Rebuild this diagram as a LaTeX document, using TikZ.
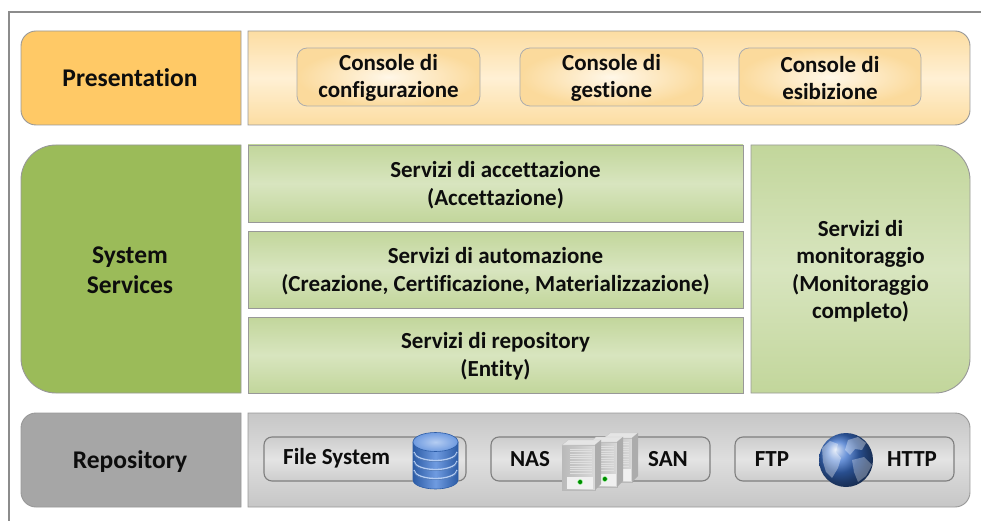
\documentclass[tikz,border=0pt]{standalone}
\usepackage{fontspec}
\setmainfont{Carlito}[Ligatures=NoCommon]
\definecolor{framec}{HTML}{8C8C8C}
\definecolor{bordc}{HTML}{989898}
\definecolor{presL}{HTML}{FFC966}
\definecolor{presE}{HTML}{FCDDA2}
\definecolor{presM}{HTML}{FFF0D4}
\definecolor{consE}{HTML}{FBDA9C}
\definecolor{consM}{HTML}{FFF7E8}
\definecolor{sysL}{HTML}{9BBB59}
\definecolor{grnE}{HTML}{C2D69B}
\definecolor{grnM}{HTML}{D8E5BF}
\definecolor{repL}{HTML}{A6A6A6}
\definecolor{repE}{HTML}{C6C6C6}
\definecolor{repM}{HTML}{DEDEDE}
\definecolor{inE}{HTML}{CDCDCD}
\definecolor{inM}{HTML}{E4E4E4}
\definecolor{inB}{HTML}{7F7F7F}
\definecolor{dbdark}{HTML}{2C5CA6}
\definecolor{dbmid}{HTML}{6F9BE0}
\definecolor{dblight}{HTML}{B5CDF2}
\definecolor{globeb}{HTML}{3A70CC}
\definecolor{txtc}{HTML}{0D0D0D}
\newcommand\mkLbox[6]{\path[#1] (#4,#3) -- ({#2+#6},#3) arc[start angle=270,end angle=180,radius=#6] -- (#2,{#5-#6}) arc[start angle=180,end angle=90,radius=#6] -- (#4,#5) -- cycle;}
\newcommand\mkRbox[6]{\path[#1] (#2,#3) -- ({#4-#6},#3) arc[start angle=270,end angle=360,radius=#6] -- (#4,{#5-#6}) arc[start angle=0,end angle=90,radius=#6] -- (#2,#5) -- cycle;}
\newcommand\mkServer[5]{% name x y w h
  \path[draw=gray!55, line width=0.4pt, left color=gray!55, right color=gray!30] (#2,#3) -- ({#2+#4},#3) -- ({#2+#4},{#3+#5}) -- (#2,{#3+#5}) -- cycle;
  \path[fill=gray!20, draw=gray!45, line width=0.4pt] (#2,#3) -- ({#2+6},{#3-5}) -- ({#2+#4+6},{#3-5}) -- ({#2+#4},#3) -- cycle;
  \path[fill=gray!65] ({#2+#4},#3) -- ({#2+#4+6},{#3-5}) -- ({#2+#4+6},{#3+#5-6}) -- ({#2+#4},{#3+#5}) -- cycle;
  \foreach \k in {0,...,10} {\draw[gray!25, line width=0.6pt] ({#2+#4*0.25},{#3+4+\k*2.4}) -- ({#2+#4*0.9},{#3+4+\k*2.4});}
  \path[fill=gray!12] ({#2+#4*0.15},{#3+#5-13}) rectangle ({#2+#4*0.95},{#3+#5-1});
  \node[circle, inner sep=0pt, minimum size=5pt, fill=green!55!black, draw=green!35] (#1) at ({#2+#4*0.55},{#3+#5-8}) {};
}
\begin{document}
\begin{tikzpicture}[x=1pt,y=-1pt,
  txt/.style={font=\fontsize{23}{27.5}\selectfont\bfseries, align=center, text=txtc, inner sep=0pt},
  lbl/.style={font=\fontsize{25.5}{30}\selectfont\bfseries, align=center, text=txtc, inner sep=0pt},
  edge/.style={draw=bordc, line width=0.9pt},
  inbox/.style={draw=inB, line width=1.1pt, rounded corners=8, top color=inE, bottom color=inE, middle color=inM},
  conbox/.style={draw=bordc!80, line width=0.8pt, rounded corners=10, inner color=consM, outer color=consE},
]
\useasboundingbox (0,0) rectangle (981,521);
\draw[framec, line width=1.6pt] (9,530) -- (9,12) -- (995,12);

% Presentation row
\mkLbox{edge, fill=presL}{21}{31}{241}{125}{15}
\mkRbox{edge, top color=presE, bottom color=presE, middle color=presM}{248}{31}{970}{125}{15}
\path[conbox] (297,48) rectangle (480,106);
\path[conbox] (520,48) rectangle (703,106);
\path[conbox] (739,48) rectangle (921,106);
\node[lbl] (pres) at (130,78) {Presentation};
\node[txt] (c1) at (388.5,78) {Console di\\configurazione};
\node[txt] (c2) at (611.5,78) {Console di\\gestione};
\node[txt] (c3) at (830,78) {Console di\\esibizione};

% System services row
\mkLbox{edge, fill=sysL}{21}{145}{241}{393}{35}
\path[edge, top color=grnE, bottom color=grnE, middle color=grnM] (248,145) rectangle (743,222);
\path[edge, top color=grnE, bottom color=grnE, middle color=grnM] (248,231) rectangle (743,308);
\path[edge, top color=grnE, bottom color=grnE, middle color=grnM] (248,317) rectangle (743,393);
\mkRbox{edge, top color=grnE, bottom color=grnE, middle color=grnM}{751}{145}{970}{393}{35}
\node[lbl] (sys) at (130,270) {System\\Services};
\node[txt] (acc) at (495.5,185) {Servizi di accettazione\\(Accettazione)};
\node[txt] (aut) at (495.5,271) {Servizi di automazione\\(Creazione, Certificazione, Materializzazione)};
\node[txt] (rep) at (495.5,356) {Servizi di repository\\(Entity)};
\node[txt] (mon) at (860.5,271) {Servizi di\\monitoraggio\\(Monitoraggio\\completo)};

% Repository row
\mkLbox{edge, fill=repL}{21}{413}{241}{507}{15}
\mkRbox{edge, top color=repE, bottom color=repE, middle color=repM}{248}{413}{970}{507}{15}
\path[inbox] (264,437) rectangle (466,481);
\path[inbox] (491,437) rectangle (710,481);
\path[inbox] (735,437) rectangle (954,481);
\node[lbl] (repo) at (130,462) {Repository};
\node[txt, anchor=west] (fs) at (283,458) {File System};
\node[txt] (nas) at (530,459) {NAS};
\node[txt] (san) at (668,459) {SAN};
\node[txt] (ftp) at (772,459) {FTP};
\node[txt] (http) at (912,459) {HTTP};

% database icon
\path[draw=dbdark, line width=0.6pt, left color=dbdark, right color=dbdark, middle color=dbmid]
  (413,442) -- (413,480) arc[start angle=180,end angle=0,x radius=22.5,y radius=9] -- (458,442) -- cycle;
\foreach \yy in {452,461,470} {
  \draw[dblight, line width=1.3pt] (414,\yy) arc[start angle=180,end angle=0,x radius=21.5,y radius=8.5];
  \draw[dbdark!80, line width=0.6pt] (414,{\yy+1.2}) arc[start angle=180,end angle=0,x radius=21.5,y radius=8.5];
}
\path[draw=dbdark, line width=0.6pt, inner color=dblight, outer color=dbmid] (435.5,442) ellipse[x radius=22.5, y radius=9.5];
\node[inner sep=0pt, minimum size=0pt] (db) at (435.5,460) {};

% server icon
\mkServer{s3}{604}{438}{28}{44}
\mkServer{s2}{590}{442}{27}{45}
\mkServer{s1}{562}{445}{33}{45}

% globe icon
\shade[ball color=globeb] (846,460) circle (27);
\begin{scope}
\clip (846,460) circle (27);
\path[fill=white, opacity=0.35] (822,448) -- (830,441) -- (838,444) -- (836,452) -- (841,458) -- (838,468) -- (832,478) -- (826,472) -- (823,462) -- cycle;
\path[fill=white, opacity=0.35] (848,440) -- (858,437) -- (866,443) -- (862,450) -- (855,449) -- (850,455) -- (845,450) -- cycle;
\path[fill=white, opacity=0.30] (852,460) -- (864,457) -- (872,465) -- (866,476) -- (858,482) -- (854,472) -- cycle;
\end{scope}
\node[inner sep=0pt, minimum size=0pt] (globe) at (846,460) {};
\end{tikzpicture}
\end{document}
